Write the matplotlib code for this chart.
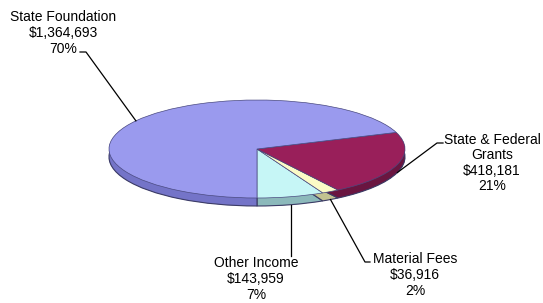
import numpy as np
import matplotlib.pyplot as plt

# data
labels = ['Other Income', 'Material Fees', 'State & Federal\nGrants', 'State Foundation']
amounts = [143959, 36916, 418181, 1364693]
pcts = ['7%', '2%', '21%', '70%']
colors = ['#c6f6f6', '#fbfbc6', '#991f5a', '#9a9aee']
side_colors = ['#8cb9bb', '#c2c290', '#6a1540', '#7474c8']

# pixel geometry of the ellipse (image coords, y down)
CX, CY, RX, RY = 257, 149, 148, 49
THICK = 8

def to(px, py):
    return (px - CX) / RX, (CY - py) / RY

fig = plt.figure(figsize=(5.43, 3.03), dpi=100)
ax = fig.add_axes([0, 0, 1, 1])

# side of the disc: stacked pies, darker colours
t = THICK / RY
for k in np.linspace(t, 0.01, 10):
    ax.pie(amounts, colors=side_colors, startangle=-90, counterclock=True,
           center=(0, -k), wedgeprops=dict(linewidth=0))
ax.pie(amounts, colors=side_colors, startangle=-90, counterclock=True,
       center=(0, -t), wedgeprops=dict(linewidth=0.8, edgecolor='#3c3c66'))
wedges, _ = ax.pie(amounts, colors=colors, startangle=-90, counterclock=True,
                   wedgeprops=dict(linewidth=0.5, edgecolor='#4a4a80'))

ax.set_aspect('auto')
x0, y0 = to(0, 303)
x1, y1 = to(543, 0)
ax.set_xlim(x0, x1)
ax.set_ylim(y0, y1)
ax.axis('off')

# label text centres and leader elbow points (pixels)
text_pos = [(256, 279), (415, 275), (492, 163), (63, 33)]
elbows = [None, [(365, 262), (370, 262)], [(437, 143), (443, 143)], [(86, 52), (80, 52)]]

for i, w in enumerate(wedges):
    mid = np.deg2rad((w.theta1 + w.theta2) / 2)
    sx, sy = np.cos(mid), np.sin(mid)
    if sy < 0:
        sy -= t
    if elbows[i] is None:
        ex, ey = to(0, 256)
        pts = [(sx, sy), (sx, ey)]
    else:
        pts = [(sx, sy)] + [to(*p) for p in elbows[i]]
    xs, ys = zip(*pts)
    ax.plot(xs, ys, color='black', linewidth=0.9)
    txt = '%s\n$%s\n%s' % (labels[i], format(amounts[i], ','), pcts[i])
    tx, ty = to(*text_pos[i])
    ax.text(tx, ty, txt, ha='center', va='center', multialignment='center',
            fontsize=10, family='Liberation Sans', linespacing=1.15)

fig.savefig('out.png', dpi=100)
